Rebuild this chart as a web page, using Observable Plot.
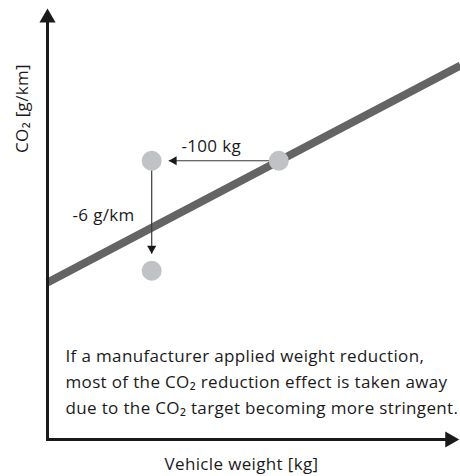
<!DOCTYPE html>
<html><head><meta charset="utf-8">
<script src="https://cdn.jsdelivr.net/npm/d3@7"></script>
<script src="https://cdn.jsdelivr.net/npm/@observablehq/plot@0.6"></script>
<style>body{margin:0;background:#fff} #chart{width:460px;height:476px} #chart text{letter-spacing:0.35px}</style>
</head><body><div id="chart"></div>
<script>
// Schematic values (arbitrary units)
const axisWeight = [1000, 1325];      // x-axis span [kg]
const axisCO2 = [100, 123.5];         // y-axis span [g/km]
const targetWeight = [1000, 1325];    // CO2 target line end points
const targetCO2 = [108.56, 120.39];
const carNames = ["original", "lightened", "lightened, stricter target"];
const carWeight = [1182, 1082, 1082];
const carCO2 = [115.2, 115.2, 109.2];
const deltaLabels = ["-100 kg", "-6 g/km"];
const captionLines = [
  "If a manufacturer applied weight reduction,",
  "most of the CO₂ reduction effect is taken away",
  "due to the CO₂ target becoming more stringent."
];
const xLabel = "Vehicle weight [kg]";
const yLabel = "CO₂ [g/km]";

const ink = "#1a1a1a";
const fs = 17;
const target = targetWeight.map((w, i) => ({w, c: targetCO2[i]}));
const cars = carWeight.map((w, i) => ({name: carNames[i], w, c: carCO2[i]}));

const chart = Plot.plot({
  width: 460,
  height: 476,
  margin: 0,
  x: {domain: axisWeight, range: [47, 460], axis: null},
  y: {domain: axisCO2, range: [439, 8], axis: null},
  style: {fontFamily: "'Open Sans', sans-serif", fontSize: fs + "px", background: "white", color: ink},
  marks: [
    // CO2 target line
    Plot.line(target, {x: "w", y: "c", stroke: "#646464", strokeWidth: 8, strokeLinecap: "butt"}),
    // axes
    Plot.arrow([0], {x1: axisWeight[0], y1: axisCO2[0], x2: axisWeight[0], y2: axisCO2[1],
      insetEnd: 8, headLength: 0, stroke: ink, strokeWidth: 3, strokeLinecap: "square"}),
    Plot.arrow([0], {x1: axisWeight[0], y1: axisCO2[0], x2: axisWeight[1] - 1, y2: axisCO2[0],
      insetEnd: 8, headLength: 0, stroke: ink, strokeWidth: 3, strokeLinecap: "square"}),
    Plot.dot([0], {x: axisWeight[0], y: axisCO2[1], symbol: "triangle", r: 6, dy: 9.3, fill: ink, stroke: "none"}),
    Plot.dot([0], {x: axisWeight[1] - 1, y: axisCO2[0], symbol: "triangle", r: 6, rotate: 90, dx: -9.3, fill: ink, stroke: "none"}),
    // delta arrows
    Plot.arrow([0], {x1: cars[0].w, y1: cars[0].c, x2: cars[1].w, y2: cars[1].c,
      insetEnd: 17, headLength: 0, stroke: "#3a3a3a", strokeWidth: 1.2, strokeLinecap: "butt"}),
    Plot.arrow([0], {x1: cars[1].w, y1: cars[1].c, x2: cars[2].w, y2: cars[2].c,
      insetEnd: 17, headLength: 0, stroke: "#3a3a3a", strokeWidth: 1.2, strokeLinecap: "butt"}),
    Plot.dot([cars[1]], {x: "w", y: "c", symbol: "triangle", r: 3.4, rotate: -90, dx: 22.3, fill: ink, stroke: "none"}),
    Plot.dot([cars[2]], {x: "w", y: "c", symbol: "triangle", r: 3.4, rotate: 180, dy: -22.3, fill: ink, stroke: "none"}),
    // cars
    Plot.dot(cars, {x: "w", y: "c", r: 10, fill: "#c1c2c6", stroke: "none"}),
    // delta labels
    Plot.text([deltaLabels[0]], {x: (cars[0].w + cars[1].w) / 2, y: cars[0].c, text: d => d, dx: -4, dy: -9,
      lineAnchor: "bottom", fontSize: fs, fill: ink}),
    Plot.text([deltaLabels[1]], {x: cars[1].w, y: (cars[1].c + cars[2].c) / 2, text: d => d, dx: -17, dy: 0,
      textAnchor: "end", lineAnchor: "middle", fontSize: fs, fill: ink}),
    // caption
    Plot.text([captionLines.join("\n")], {x: axisWeight[0], y: axisCO2[0], text: d => d, dx: 18, dy: -26,
      textAnchor: "start", lineAnchor: "bottom", lineHeight: 26 / fs, fontSize: fs, fill: ink}),
    // axis titles
    Plot.text([xLabel], {frameAnchor: "bottom", text: d => d, dx: 11, dy: -7, textAnchor: "middle",
      lineAnchor: "bottom", fontSize: fs, fill: ink}),
    Plot.text([yLabel], {frameAnchor: "top-left", text: d => d, dx: 27, dy: 108, rotate: -90,
      textAnchor: "middle", lineAnchor: "bottom", fontSize: fs, fill: ink})
  ]
});
document.getElementById("chart").append(chart);
</script>
</body></html>
